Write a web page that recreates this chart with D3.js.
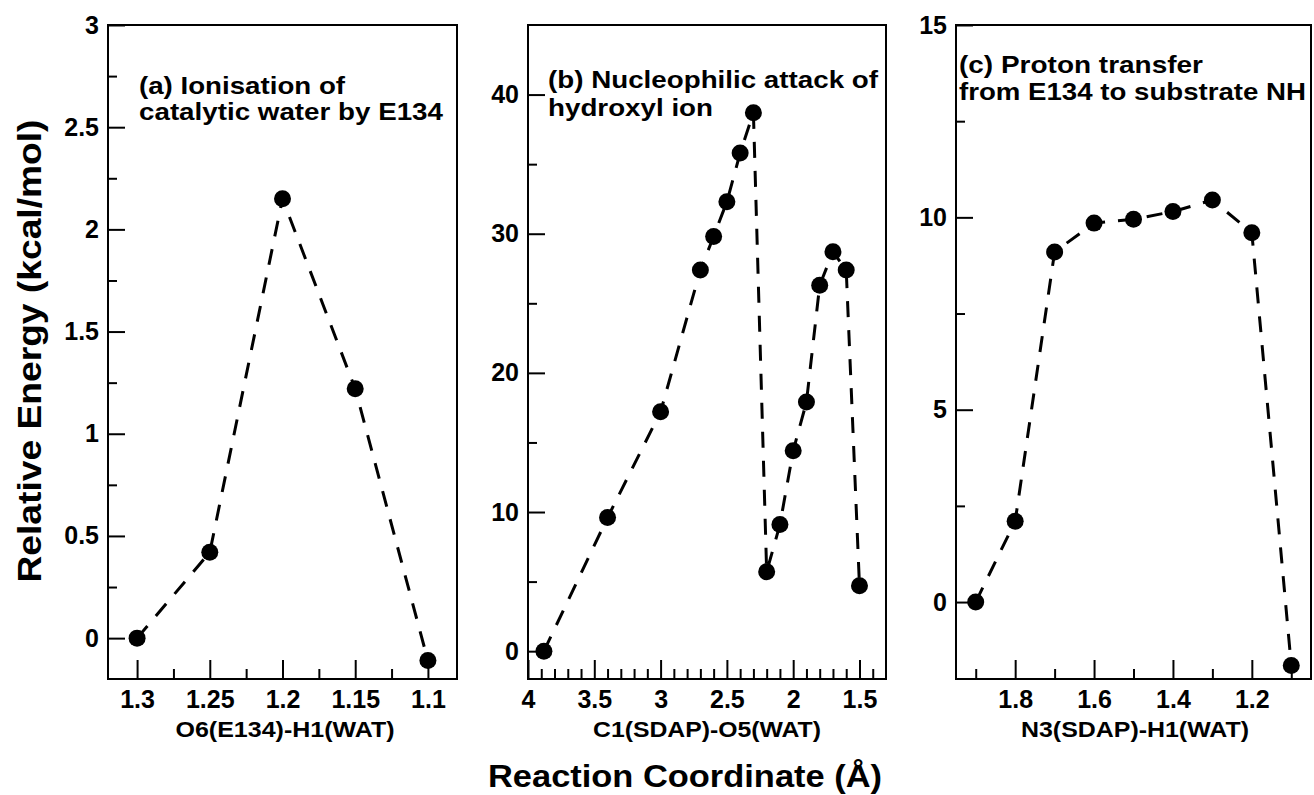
<!DOCTYPE html>
<html>
<head>
<meta charset="utf-8">
<script src="https://cdn.jsdelivr.net/npm/d3@7"></script>
<style>
  body { margin: 0; background: #fff; }
  text { font-family: "Liberation Sans", Arial, Helvetica, sans-serif; font-weight: bold; }
</style>
</head>
<body>
<div id="chart"></div>
<script>
const width = 1314;
const height = 795;
const plotTop = 25, plotBottom = 679;

// (a) ionisation of catalytic water
const xA = [1.3, 1.25, 1.2, 1.15, 1.1];
const yA = [0, 0.42, 2.15, 1.22, -0.11];
// (b) nucleophilic attack
const xB = [3.88, 3.4, 3.0, 2.7, 2.6, 2.5, 2.4, 2.3, 2.2, 2.1, 2.0, 1.9, 1.8, 1.7, 1.6, 1.5];
const yB = [0, 9.6, 17.2, 27.4, 29.8, 32.3, 35.8, 38.7, 5.7, 9.1, 14.4, 17.9, 26.3, 28.7, 27.4, 4.7];
// (c) proton transfer
const xC = [1.9, 1.8, 1.7, 1.6, 1.5, 1.4, 1.3, 1.2, 1.1];
const yC = [0, 2.1, 9.1, 9.85, 9.95, 10.15, 10.45, 9.6, -1.65];

// ticks
const xTicksA = [1.3, 1.25, 1.2, 1.15, 1.1];
const xMinorA = [1.275, 1.225, 1.175, 1.125];
const yTicksA = [0, 0.5, 1, 1.5, 2, 2.5, 3];
const yMinorA = [0.25, 0.75, 1.25, 1.75, 2.25, 2.75];

const xTicksB = [4, 3.5, 3, 2.5, 2, 1.5];
const xMinorB = [3.9, 3.8, 3.7, 3.6, 3.4, 3.3, 3.2, 3.1, 2.9, 2.8, 2.7, 2.6, 2.4, 2.3, 2.2, 2.1, 1.9, 1.8, 1.7, 1.6, 1.4];
const yTicksB = [0, 10, 20, 30, 40];
const yMinorB = [5, 15, 25, 35];

const xTicksC = [1.8, 1.6, 1.4, 1.2];
const xMinorC = [1.9, 1.7, 1.5, 1.3, 1.1];
const yTicksC = [0, 5, 10, 15];
const yMinorC = [2.5, 7.5, 12.5];

const titleA = ["(a) Ionisation of", "catalytic water by E134"];
const titleB = ["(b) Nucleophilic attack of", "hydroxyl ion"];
const titleC = ["(c) Proton transfer", "from E134 to substrate NH"];
const xLabelA = "O6(E134)-H1(WAT)";
const xLabelB = "C1(SDAP)-O5(WAT)";
const xLabelC = "N3(SDAP)-H1(WAT)";

const svg = d3.select("#chart")
  .append("svg")
  .attr("width", width)
  .attr("height", height);

function styleAxis(g) {
  g.select(".domain").remove();
  g.attr("font-size", 25).attr("font-family", null);
  g.selectAll("line").attr("stroke", "#000").attr("stroke-width", 2);
  g.selectAll("text").attr("fill", "#000");
}

function drawPanel(p) {
  const x = d3.scaleLinear().domain(p.xDomain).range([p.left, p.right]);
  const y = d3.scaleLinear().domain(p.yDomain).range([plotBottom, plotTop]);

  // minor ticks
  svg.append("g")
    .attr("transform", "translate(0," + plotBottom + ")")
    .call(d3.axisBottom(x).tickValues(p.xMinor).tickSize(-10).tickFormat(""))
    .call(styleAxis);
  svg.append("g")
    .attr("transform", "translate(" + p.left + ",0)")
    .call(d3.axisLeft(y).tickValues(p.yMinor).tickSize(-9).tickFormat(""))
    .call(styleAxis);

  // major ticks
  svg.append("g")
    .attr("transform", "translate(0," + plotBottom + ")")
    .call(d3.axisBottom(x).tickValues(p.xTicks).tickSize(-19).tickPadding(11).tickFormat(d => d))
    .call(styleAxis);
  svg.append("g")
    .attr("transform", "translate(" + p.left + ",0)")
    .call(d3.axisLeft(y).tickValues(p.yTicks).tickSize(-17).tickPadding(9).tickFormat(d => d))
    .call(styleAxis);

  svg.append("rect")
    .attr("x", p.left)
    .attr("y", plotTop)
    .attr("width", p.right - p.left)
    .attr("height", plotBottom - plotTop)
    .attr("fill", "none")
    .attr("stroke", "#000")
    .attr("stroke-width", 2);

  const pts = p.xs.map((v, i) => [v, p.ys[i]]);
  const line = d3.line().x(d => x(d[0])).y(d => y(d[1]));

  svg.append("path")
    .datum(pts)
    .attr("d", line)
    .attr("fill", "none")
    .attr("stroke", "#000")
    .attr("stroke-width", 3)
    .attr("stroke-dasharray", "16,13");

  svg.append("g")
    .selectAll("circle")
    .data(pts)
    .join("circle")
    .attr("cx", d => x(d[0]))
    .attr("cy", d => y(d[1]))
    .attr("r", 8.5)
    .attr("fill", "#000");

  // panel title, two lines
  p.title.forEach((t, i) => {
    svg.append("text")
      .text(t)
      .attr("x", p.titleX)
      .attr("y", p.titleY[i])
      .attr("font-size", 24)
      .attr("textLength", p.titleLen[i])
      .attr("lengthAdjust", "spacingAndGlyphs");
  });

  svg.append("text")
    .text(p.xLabel)
    .attr("x", p.xLabelX)
    .attr("y", 737)
    .attr("text-anchor", "middle")
    .attr("font-size", 22)
    .attr("textLength", p.xLabelLen)
    .attr("lengthAdjust", "spacingAndGlyphs");
}

drawPanel({
  left: 108, right: 457,
  xDomain: [1.32, 1.08], yDomain: [-0.2, 3],
  xs: xA, ys: yA,
  xTicks: xTicksA, xMinor: xMinorA, yTicks: yTicksA, yMinor: yMinorA,
  title: titleA, titleX: 139, titleY: [94, 120], titleLen: [206, 304],
  xLabel: xLabelA, xLabelX: 285, xLabelLen: 219
});

drawPanel({
  left: 528, right: 886,
  xDomain: [4, 1.3], yDomain: [-2, 45],
  xs: xB, ys: yB,
  xTicks: xTicksB, xMinor: xMinorB, yTicks: yTicksB, yMinor: yMinorB,
  title: titleB, titleX: 548, titleY: [88, 116], titleLen: [330, 165],
  xLabel: xLabelB, xLabelX: 707, xLabelLen: 228
});

drawPanel({
  left: 956, right: 1311,
  xDomain: [1.95, 1.05], yDomain: [-2, 15],
  xs: xC, ys: yC,
  xTicks: xTicksC, xMinor: xMinorC, yTicks: yTicksC, yMinor: yMinorC,
  title: titleC, titleX: 959, titleY: [73, 100], titleLen: [244, 347],
  xLabel: xLabelC, xLabelX: 1135, xLabelLen: 228
});

svg.append("text")
  .text("Relative Energy (kcal/mol)")
  .attr("transform", "translate(41,351) rotate(-90)")
  .attr("text-anchor", "middle")
  .attr("font-size", 34)
  .attr("textLength", 463)
  .attr("lengthAdjust", "spacingAndGlyphs");

svg.append("text")
  .text("Reaction Coordinate (Å)")
  .attr("x", 685)
  .attr("y", 787)
  .attr("text-anchor", "middle")
  .attr("font-size", 32)
  .attr("textLength", 394)
  .attr("lengthAdjust", "spacingAndGlyphs");
</script>
</body>
</html>
